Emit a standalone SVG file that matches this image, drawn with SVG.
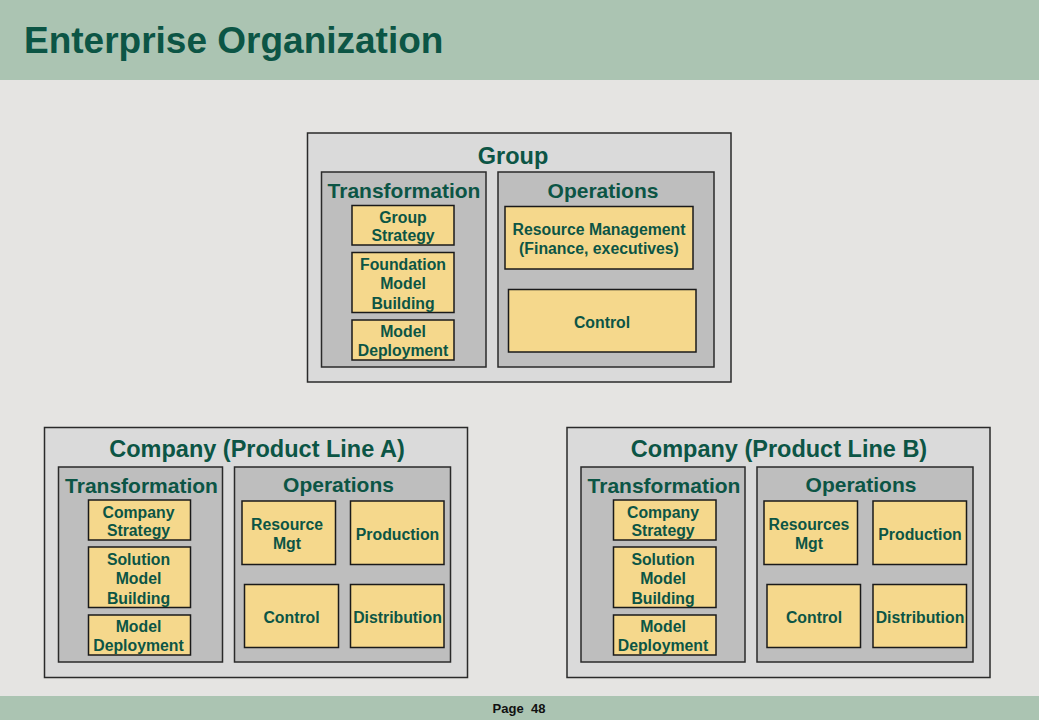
<svg xmlns="http://www.w3.org/2000/svg" width="1039" height="720" viewBox="0 0 1039 720">
<style>
.bg{fill:#e5e4e2}
.band{fill:#abc4b2}
.outer{fill:#dadada;stroke:#2a2a2a;stroke-width:1.5}
.inner{fill:#bebebe;stroke:#2a2a2a;stroke-width:1.5}
.leaf{fill:#f5d88c;stroke:#1a1a1a;stroke-width:1.5}
text{font-family:"Liberation Sans",Arial,sans-serif;font-weight:bold;fill:#0c5545;text-anchor:middle}
.h1{font-size:23.5px}
.h2{font-size:21px}
.t{font-size:15.8px}
.title{font-size:37px;text-anchor:start}
.page{font-size:13px;fill:#111}
</style>
<rect class="bg" x="0" y="0" width="1039" height="720"/>
<rect class="band" x="0" y="0" width="1039" height="80"/>
<rect class="band" x="0" y="696" width="1039" height="24"/>
<text class="title" x="24" y="53">Enterprise Organization</text>
<text class="page" x="519" y="713" xml:space="preserve">Page  48</text>

<g id="group">
<rect class="outer" x="307.5" y="133" width="423.5" height="249"/>
<text class="h1" x="513" y="163.5">Group</text>
<g id="group-transformation">
<rect class="inner" x="321.5" y="172" width="164.5" height="195"/>
<text class="h2" x="404" y="198">Transformation</text>
</g>
<g id="group-strategy">
<rect class="leaf" x="352" y="205.5" width="102" height="39.5"/>
<text class="t" x="403" y="222.5">Group</text>
<text class="t" x="403" y="240.5">Strategy</text>
</g>
<g id="foundation-model-building">
<rect class="leaf" x="352" y="252.5" width="102" height="60"/>
<text class="t" x="403" y="269.5">Foundation</text>
<text class="t" x="403" y="289">Model</text>
<text class="t" x="403" y="308.5">Building</text>
</g>
<g id="group-model-deployment">
<rect class="leaf" x="352" y="320" width="102" height="40"/>
<text class="t" x="403" y="337">Model</text>
<text class="t" x="403" y="355.5">Deployment</text>
</g>
<g id="group-operations">
<rect class="inner" x="498" y="172" width="216" height="195"/>
<text class="h2" x="603" y="198">Operations</text>
</g>
<g id="resource-management">
<rect class="leaf" x="505" y="206.5" width="188" height="62.5"/>
<text class="t" x="599" y="235">Resource Management</text>
<text class="t" x="599" y="253.5">(Finance, executives)</text>
</g>
<g id="group-control">
<rect class="leaf" x="508.5" y="289.5" width="187.5" height="62.5"/>
<text class="t" x="602" y="327.5">Control</text>
</g>
</g>

<g id="company-a">
<rect class="outer" x="44.5" y="427.5" width="423" height="250"/>
<text class="h1" x="257" y="456.5">Company (Product Line A)</text>
<g id="a-transformation">
<rect class="inner" x="58.5" y="467" width="164" height="195"/>
<text class="h2" x="141.5" y="493">Transformation</text>
</g>
<g id="a-company-strategy">
<rect class="leaf" x="88.5" y="500" width="102" height="40"/>
<text class="t" x="138.5" y="517.5">Company</text>
<text class="t" x="138.5" y="535.5">Strategy</text>
</g>
<g id="a-solution-model-building">
<rect class="leaf" x="88.5" y="547" width="102" height="60.5"/>
<text class="t" x="138.5" y="564.5">Solution</text>
<text class="t" x="138.5" y="584">Model</text>
<text class="t" x="138.5" y="603.5">Building</text>
</g>
<g id="a-model-deployment">
<rect class="leaf" x="88.5" y="615" width="102" height="40"/>
<text class="t" x="138.5" y="632">Model</text>
<text class="t" x="138.5" y="650.5">Deployment</text>
</g>
<g id="a-operations">
<rect class="inner" x="234.5" y="467" width="216" height="195"/>
<text class="h2" x="338.5" y="492">Operations</text>
</g>
<g id="a-resource-mgt">
<rect class="leaf" x="242" y="501" width="93.5" height="63.5"/>
<text class="t" x="287" y="530">Resource</text>
<text class="t" x="287" y="548.5">Mgt</text>
</g>
<g id="a-production">
<rect class="leaf" x="350.5" y="501" width="93.5" height="63.5"/>
<text class="t" x="397.5" y="539.5">Production</text>
</g>
<g id="a-control">
<rect class="leaf" x="244.5" y="584.5" width="94" height="63"/>
<text class="t" x="291.5" y="623">Control</text>
</g>
<g id="a-distribution">
<rect class="leaf" x="350.5" y="584.5" width="93.5" height="63"/>
<text class="t" x="397.5" y="623">Distribution</text>
</g>
</g>

<g id="company-b">
<rect class="outer" x="567" y="427.5" width="423" height="250"/>
<text class="h1" x="779" y="456.5">Company (Product Line B)</text>
<g id="b-transformation">
<rect class="inner" x="581" y="467" width="164" height="195"/>
<text class="h2" x="664" y="493">Transformation</text>
</g>
<g id="b-company-strategy">
<rect class="leaf" x="613.5" y="500" width="102.5" height="40"/>
<text class="t" x="663" y="517.5">Company</text>
<text class="t" x="663" y="535.5">Strategy</text>
</g>
<g id="b-solution-model-building">
<rect class="leaf" x="613.5" y="547" width="102.5" height="60.5"/>
<text class="t" x="663" y="564.5">Solution</text>
<text class="t" x="663" y="584">Model</text>
<text class="t" x="663" y="603.5">Building</text>
</g>
<g id="b-model-deployment">
<rect class="leaf" x="613.5" y="615" width="102.5" height="40"/>
<text class="t" x="663" y="632">Model</text>
<text class="t" x="663" y="650.5">Deployment</text>
</g>
<g id="b-operations">
<rect class="inner" x="757" y="467" width="216" height="195"/>
<text class="h2" x="861" y="492">Operations</text>
</g>
<g id="b-resources-mgt">
<rect class="leaf" x="764" y="501" width="93.5" height="63.5"/>
<text class="t" x="809" y="530">Resources</text>
<text class="t" x="809" y="548.5">Mgt</text>
</g>
<g id="b-production">
<rect class="leaf" x="873" y="501" width="93.5" height="63.5"/>
<text class="t" x="920" y="539.5">Production</text>
</g>
<g id="b-control">
<rect class="leaf" x="767" y="584.5" width="93.5" height="63"/>
<text class="t" x="814" y="623">Control</text>
</g>
<g id="b-distribution">
<rect class="leaf" x="873" y="584.5" width="93.5" height="63"/>
<text class="t" x="920" y="623">Distribution</text>
</g>
</g>

<g id="connectors"></g>
</svg>
